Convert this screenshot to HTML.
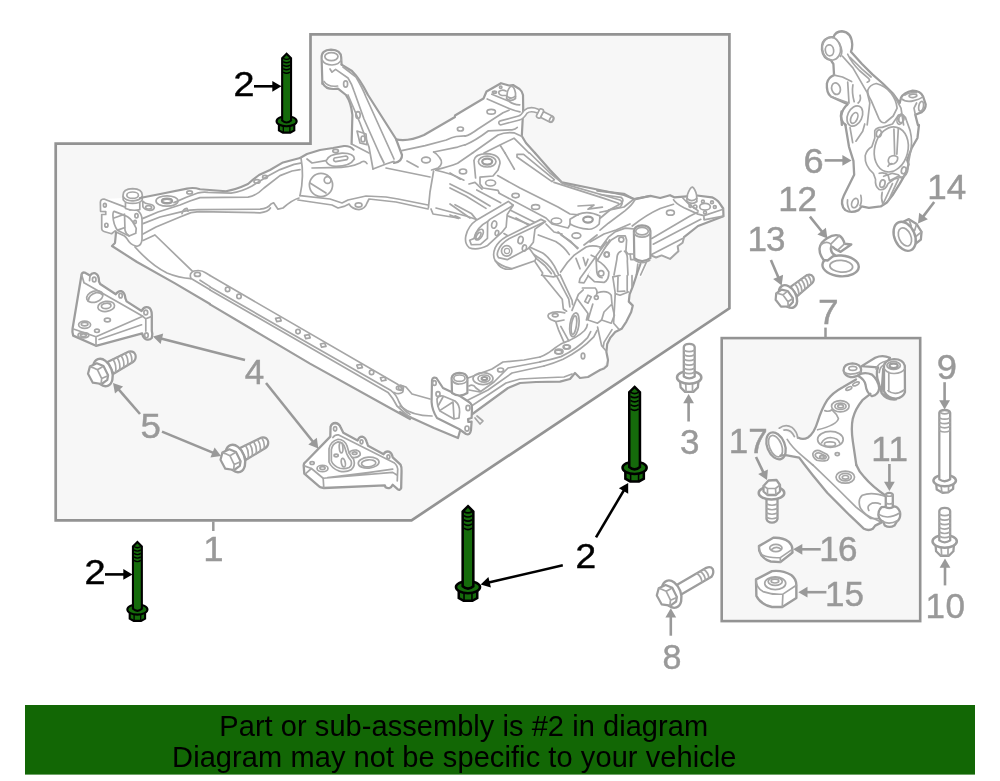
<!DOCTYPE html>
<html lang="en">
<head>
<meta charset="utf-8">
<title>Suspension mounting diagram</title>
<style>
html,body{margin:0;padding:0;background:#fff;}
body{width:1000px;height:781px;overflow:hidden;position:relative;font-family:"Liberation Sans",sans-serif;}
svg{position:absolute;left:0;top:0;display:block;will-change:transform;}
svg text{font-family:"Liberation Sans",sans-serif;}
.g{fill:none;stroke:#a6a6a6;stroke-width:1.7;stroke-linecap:round;stroke-linejoin:round;vector-effect:non-scaling-stroke;}
.g path,.g ellipse,.g circle,.g polygon,.g polyline,.g line,.g rect{vector-effect:non-scaling-stroke;}
.w{fill:#fff;}
.g [style*="stroke-width:2."]{stroke:#9d9d9d;}
</style>
</head>
<body>
<svg width="1000" height="781" viewBox="0 0 1000 781">
<!-- assembly box 1 -->
<polygon points="55.7,143.7 310.5,143.7 310.5,34.4 729.4,34.4 729.4,308.3 411.5,520.4 55.7,520.4" fill="#f7f7f7" stroke="#939393" stroke-width="2.7" stroke-linejoin="miter"/>
<!-- assembly box 7 -->
<rect x="721.7" y="338.1" width="198.5" height="283" fill="#f7f7f7" stroke="#939393" stroke-width="2.6"/>
<g fill="#fff" stroke="none">
<path transform="translate(300,35) scale(0.2)" d="M112 110 L125 80 L155 72 L190 80 L205 110 L210 150 L260 180 L300 225 L340 300 L480 520 L510 600 L505 640 L365 680 L258 560 L262 400 L255 340 L230 300 L190 268 L150 278 L115 245 Z"/>
<path transform="translate(465,75) scale(0.1)" d="M0 345 L185 235 L215 165 L360 82 L440 105 L480 100 L545 140 L578 185 L582 330 L568 610 L700 780 L0 780 Z"/>
<path transform="translate(600,170) scale(0.14)" d="M0 150 L170 170 L245 210 L360 185 L430 200 L500 180 L530 195 L620 185 L700 180 L800 195 L850 230 L880 275 L882 330 L700 400 L600 480 L590 520 L555 545 L560 580 L500 635 L440 610 L400 625 L365 610 L300 760 L0 760 Z"/>
<path transform="translate(540,240) scale(0.16)" d="M375 219 L610 200 L580 290 L560 340 L555 385 L580 410 L570 450 L540 510 L510 555 L470 575 L440 610 L420 650 L415 700 L425 750 L0 750 L0 0 L375 0 Z"/>
<path transform="translate(400,330) scale(0.2)" d="M0 250 L160 250 L300 200 L520 150 L830 55 L1000 0 L1000 200 L940 235 L900 240 L875 215 L850 245 L800 258 L600 265 L540 290 L360 420 L355 500 L335 525 L300 505 L290 540 L170 490 L0 410 Z"/>
<path transform="translate(210,270) scale(0.2)" d="M0 28 L1000 610 L1000 745 L0 172 Z"/>
<path transform="translate(95,215) scale(0.2)" d="M105 60 L300 100 L488 282 L555 290 L575 302 L575 445 L400 342 L210 235 L85 155 L100 140 Z"/>
<path transform="translate(810,110) scale(0.14723)" d="M200 0 L200 70 L265 250 L295 345 L300 440 L230 580 Q200 640 240 680 Q280 705 330 680 L350 655 L400 665 L480 655 L520 630 L560 580 L610 500 L650 430 L670 370 L660 340 L690 260 L730 190 L740 95 Z"/>
<path transform="translate(760,345) scale(0.16)" d="M600 215 L520 262 Q450 300 420 345 Q385 400 360 480 Q340 550 300 578 L235 580 L120 520 L50 600 L100 720 L200 690 L330 750 L602 750 L580 600 Q568 520 580 460 Q595 400 640 345 L690 305 L745 270 L700 185 Z"/>
<path transform="translate(760,440) scale(0.16)" d="M90 90 L160 95 L245 110 L275 150 L330 220 L420 330 L560 470 L650 555 Q680 570 705 555 L720 535 L760 515 L790 352 Q700 290 650 230 Q620 200 602 156 L590 0 L100 0 Z"/>
</g>
<!-- a00_fill.svg -->
<!-- white silhouette of the sub-frame (includes centre opening) -->
<polygon fill="#fff" stroke="none" points="100.6,211.4 100.4,202.4 104,199 123,198 123,192 132.6,188.6 142.3,193 140,198 164,193.2 187,188.6 200,189.2 226,191.2 248,184 253,179.6 259,175 270,170 283,162.4 300,158 307,154 320,150 333,148 344,146 351.6,144 352.4,115 346,95 338,88.6 322.6,83 321.6,58 331,49.6 341.2,57.4 341.6,64.6 352,71 368,95 396,139 408,140 424,135 460,114 486,95 489,91 501,83.2 509,85.5 513,85 519.5,89 523,95 523.2,108 521.8,136 526,143 535,153 550,170 562,182.4 590,188 624,195 634,199 650.4,195.9 660.2,198 670,195.2 674.2,197.3 686.8,196.3 696.9,195.5 712,197.3 719,202.5 723.2,208.5 723.5,216.2 698,226 684,237.2 682.6,242.8 677.7,246.3 678.4,251.2 670,258.9 661.6,255.4 656,257.5 651,255.4 642,264 637.6,272 632.8,286.4 629.6,294.4 628.8,301.6 632.8,305.6 631.2,312 626.4,321.6 621.6,328.8 615.2,332 610.4,337.6 607.2,344 606.4,352 608,360 600,370 588,377 580,378 575,373 570,379 560,381.6 536,382 520,383 508,388 472.4,414 471.6,421.6 471,430 466,434 459,429 458,438 434,428 412,418 400,412 390,408 310,363.6 210,304.4 175,283.4 137,262 112,246 115,243 116,232.6 111.6,233.7 104,231.5 101.7,228.8 101.7,214.5"/>

<!-- b01_plateL.svg -->
<g class="g" transform="translate(95,180) scale(0.08958)">
<!-- left front plate -->
<path class="w" d="M62 350 L60 250 Q62 212 100 212 L330 300 L390 335 Q440 318 480 345 Q522 378 525 440 L525 660 Q520 730 470 740 Q420 735 380 690 Q350 640 330 625 L235 580 L225 568 L185 600 L100 575 Q78 570 75 545 L75 385 L120 385 L120 352 Z"/>
<path d="M215 350 L330 395 Q400 420 440 500 L460 540 L455 595 L380 625 Q330 600 250 560 Q205 500 200 400 Q200 350 215 350 Z"/>
<path d="M330 395 L335 560 Q345 605 380 623 M212 425 L330 382 M252 560 L335 530"/>
<ellipse cx="110" cy="282" rx="16" ry="20"/><ellipse cx="127" cy="505" rx="18" ry="22"/>
<ellipse cx="463" cy="400" rx="18" ry="24"/><ellipse cx="447" cy="468" rx="14" ry="18"/>
<!-- bushing cylinder -->
<path class="w" d="M340 250 L340 318 Q420 350 500 330 L500 245 Z"/>
<path class="w" d="M313 170 Q313 98 420 96 Q527 98 528 170 L527 222 Q500 262 420 262 Q340 262 315 222 Z"/>
<path d="M315 185 Q345 235 420 232 Q495 235 527 185"/>
<ellipse cx="420" cy="170" rx="65" ry="36"/>
<!-- small tab right of cylinder -->
<path class="w" d="M532 235 Q560 265 600 268 Q655 275 662 305 Q660 335 610 340 Q555 335 535 300 Z"/>
<ellipse cx="598" cy="305" rx="34" ry="19"/>
</g>

<!-- b02_armL.svg -->
<g class="g" transform="translate(140,150) scale(0.2)">
<!-- left arm, top silhouette -->
<path style="stroke-width:2.1" d="M0 240 L120 216 L235 193 Q268 186 300 196 L430 206 Q480 198 540 170 L565 148 L595 125 L650 100 L715 62 L800 40"/>
<path d="M170 263 L232 236 L292 214 Q320 208 340 212 L455 216 Q510 208 560 180 L640 130 L700 98 L770 72 L803 66"/>
<path d="M15 342 L90 310 L200 275 L250 255 L300 238 L540 236 Q580 230 620 190 L700 128 L760 105 L800 98"/>
<path d="M15 368 L100 335 L210 308 Q250 298 290 298 L600 296 Q640 292 655 270 L668 264 L690 296 L715 290 Q760 250 795 240"/>
<path d="M15 420 L80 385 L200 335 L255 313 L295 308 L600 314 Q640 310 652 290"/>
<path d="M15 452 L72 426"/>
<path d="M210 318 Q215 295 235 292 L240 306"/>
<ellipse cx="135" cy="255" rx="55" ry="26"/><ellipse cx="135" cy="255" rx="25" ry="11" style="stroke-width:2.4"/>
<ellipse cx="248" cy="212" rx="14" ry="8"/><ellipse cx="585" cy="157" rx="15" ry="9"/><ellipse cx="625" cy="135" rx="12" ry="8"/>
</g>

<!-- b03_mid.svg -->
<g class="g" transform="translate(290,120) scale(0.2)">
<!-- grey gap between tower and rear member -->
<path style="stroke-width:2.1" d="M50 190 L85 170 L150 150 L215 140 L270 130 Q300 128 318 148"/>
<path d="M55 190 Q72 280 50 378"/>
<path d="M85 195 L110 215 L178 203"/>
<path d="M180 205 Q190 172 260 166 Q320 165 322 195 Q300 232 230 232 Q190 230 180 205 Z"/>
<path d="M222 190 L280 180 Q295 185 285 198 L228 208 Q212 203 222 190 Z"/>
<ellipse cx="228" cy="155" rx="14" ry="8"/>
<path d="M110 240 L200 238 Q300 240 350 215 Q372 198 385 218"/>
<circle cx="155" cy="325" r="58"/><path d="M100 315 L180 365"/><circle cx="188" cy="300" r="17"/>
<path d="M50 378 L200 395 L260 415 L290 400 L380 380 L480 385 L540 395 L690 425"/>
<path d="M40 400 L210 425 L240 440 L270 432 L295 420 Q310 445 345 448 Q375 445 385 415 L395 395 L530 410 L690 445"/>
<ellipse cx="343" cy="425" rx="17" ry="11"/>
<!-- tower base -->
<path d="M480 240 L700 285 M585 205 L640 235"/>
<path d="M718 255 L700 360 L692 440 M705 445 L715 470 L840 490"/>
<!-- rear member front edge -->
<ellipse cx="680" cy="200" rx="22" ry="14"/><ellipse cx="852" cy="45" rx="15" ry="10"/>
<path d="M800 320 L900 370 L1000 430 M730 440 L880 480 L940 500"/>
</g>

<!-- b04_tower.svg -->
<g class="g" transform="translate(300,35) scale(0.2)">
<!-- tower right edge (thick) -->
<path style="stroke-width:2.2" d="M208 148 L260 180 Q300 220 340 300 L480 520 L510 600 Q512 632 470 640"/>
<!-- top bushing -->
<path style="stroke-width:2.2" d="M112 245 L108 115 Q106 75 155 73 Q205 75 206 112 L208 148"/>
<ellipse cx="157" cy="108" rx="33" ry="20"/>
<path d="M110 125 Q125 150 160 150 Q195 148 206 125"/>
<path style="stroke-width:2.2" d="M113 240 Q130 278 190 268 L230 300 Q255 335 262 400 L258 545"/>
<path d="M120 232 Q140 262 188 255"/>
<path d="M150 170 L160 186 L178 172 L240 215 Q262 250 270 280 L320 420 L400 600 L420 640"/>
<path d="M215 160 L280 210 Q315 270 330 310 L470 620"/>
<path d="M240 300 L300 440 L345 560 L365 670"/>
<path d="M258 545 L345 590 M365 670 L430 645 L470 632"/>
<ellipse cx="228" cy="245" rx="10" ry="16"/><ellipse cx="290" cy="400" rx="11" ry="17"/>
<path d="M285 480 L300 540 L335 548 L330 495 Z"/><ellipse cx="315" cy="520" rx="10" ry="15"/>
<!-- rear member top silhouette -->
<path style="stroke-width:2.2" d="M480 522 Q540 535 620 500 L775 410"/>
</g>

<!-- b05_rearTopR.svg -->
<g class="g" transform="translate(465,75) scale(0.1)">
<path style="stroke-width:2.2" d="M-100 405 L0 345 L185 235 L215 165 L360 82 L440 105 L480 100 L545 140 Q575 165 580 200 L582 330 L575 480 L568 610 L610 680 L700 780"/>
<path class="w" d="M415 235 L425 165 Q445 110 470 112 Q495 125 505 180 L505 235 Q460 272 415 235 Z"/>
<path d="M418 212 Q460 250 505 212"/>
<circle cx="357" cy="122" r="12"/><ellipse cx="295" cy="172" rx="20" ry="10"/>
<path d="M410 160 Q370 140 340 165 Q330 195 370 205 L412 205"/>
<path d="M268 192 L440 262 Q490 300 548 298"/>
<path d="M222 240 L440 335 Q500 360 550 368"/>
<ellipse cx="262" cy="368" rx="42" ry="24"/>
<path d="M0 612 Q50 600 130 540 L380 378 L440 352"/>
<path d="M0 700 Q100 660 235 558 L470 548 Q505 545 522 525"/>
<path d="M75 780 L330 600 Q400 568 490 578 L565 612"/>
<path d="M190 780 L350 700 L490 632 L640 780 M350 700 L400 780"/>
<!-- pipe -->
<path d="M358 478 L540 430 Q575 420 605 368 Q650 330 725 360" style="stroke-width:5.6"/>
<path d="M358 478 L540 430 Q575 420 605 368 Q650 330 725 360" style="stroke:#fff;stroke-width:2.4"/>
<g transform="translate(750,385) rotate(27)">
<path class="w" d="M20 -32 L125 -32 Q150 -30 150 0 Q150 30 125 32 L20 32 Z"/>
<ellipse cx="128" cy="0" rx="16" ry="30"/>
<rect class="w" x="-22" y="-48" width="44" height="96" rx="16"/>
</g>
</g>

<!-- b06_rearMid.svg -->
<g class="g" transform="translate(450,130) scale(0.2)">
<!-- silhouette right edge -->
<path style="stroke-width:2.2" d="M425 115 L500 200 L560 262 L700 290 L870 325 L920 345 L1000 330"/>
<!-- raised panel -->
<path d="M398 115 L500 215 L565 268 L850 350 Q872 362 850 386 L792 400"/>
<path d="M335 122 L368 122 L522 248 L510 258 L335 135 Z"/>
<path d="M275 115 L322 196 M520 262 L770 342 L842 366"/>
<path d="M640 380 L720 375 L690 396 L762 386"/>
<path d="M238 228 L350 290 L540 385 L600 420 L642 424"/>
<!-- left bushing bracket -->
<path d="M120 152 Q125 120 182 118 Q250 122 250 166 L240 200 L215 230 L150 236 L150 270 L165 290 L240 302 L246 316"/>
<ellipse cx="186" cy="158" rx="25" ry="15" style="stroke-width:2.2"/>
<ellipse cx="186" cy="158" rx="44" ry="27"/>
<path d="M120 155 L128 240"/>
<ellipse cx="203" cy="265" rx="25" ry="15"/><ellipse cx="328" cy="328" rx="18" ry="11"/><ellipse cx="428" cy="385" rx="20" ry="12"/><ellipse cx="532" cy="455" rx="26" ry="15"/>
<path d="M246 316 L480 440 L510 470 L590 490 L602 470"/>
<!-- right bushing -->
<path d="M600 446 L640 422 Q690 400 750 430 L746 470 Q720 498 690 496 Q640 492 600 470 Z"/>
<ellipse cx="690" cy="448" rx="24" ry="15" style="stroke-width:2.2"/>
<ellipse cx="632" cy="528" rx="22" ry="14"/>
<!-- left-side lines -->
<ellipse cx="65" cy="207" rx="18" ry="12"/>
<path d="M0 215 L52 246 M95 270 L125 262 L160 296"/>
<path d="M0 290 L80 330 L180 392 M0 370 L100 440 M0 425 L42 442"/>
<path d="M300 400 L440 470 M330 440 L420 490 M540 510 L640 590 M480 470 L520 510 L560 520"/>
<path d="M752 440 L800 400 L870 385 L920 345 M700 560 L770 520 L830 500 L900 470"/>
</g>

<!-- b07_rearRight.svg -->
<g class="g" transform="translate(600,170) scale(0.14)">
<path style="stroke-width:2.2" d="M-20 148 L170 170 L245 210 L360 185 L430 200 L500 180 L530 195 L620 188 M692 182 L800 195 Q840 215 850 232 L880 275 L882 330 L700 400 L600 480"/>
<path d="M600 480 L590 520 L555 545 L560 580 L500 635 L440 610 L400 625 L365 610" style="stroke-width:2"/>
<path class="w" d="M620 225 L625 175 Q645 120 660 122 Q680 135 690 180 L692 225 Q660 252 620 225 Z"/>
<path d="M621 203 Q655 235 692 203"/>
<path d="M525 212 Q540 240 600 270 L700 315 L742 326 L880 280 M742 326 L743 356 L880 330 M590 198 L640 250 L700 290"/>
<ellipse cx="750" cy="262" rx="38" ry="24"/><circle cx="680" cy="262" r="12"/><circle cx="735" cy="225" r="10"/><circle cx="800" cy="230" r="10"/><circle cx="820" cy="265" r="10"/><circle cx="750" cy="303" r="10"/><circle cx="645" cy="258" r="9"/>
<path d="M250 212 Q230 250 180 290 L60 380 L0 430"/>
<path d="M0 175 L150 195 Q178 215 150 240 L60 290 L0 302"/>
<path d="M230 400 Q330 320 430 275 L525 245 M370 490 L640 330 L700 300 M380 530 L720 352 M365 605 L590 490"/>
<ellipse cx="503" cy="305" rx="28" ry="18"/>
<!-- bushing cylinder -->
<path class="w" style="stroke-width:2.2" d="M242 435 L245 630 Q300 672 360 630 L360 435 Q355 395 300 395 Q245 398 242 435 Z"/>
<ellipse cx="300" cy="437" rx="45" ry="27"/>
<path d="M243 450 Q260 480 300 480 Q345 478 360 450"/>
<path d="M250 645 Q300 680 355 645"/>
<!-- left bracket -->
<path d="M0 560 L60 480 L110 440 L180 415 L240 420"/>
<path d="M0 600 L80 500 L130 470 L180 470 L190 500 L185 580 L200 600 L245 600"/>
<circle cx="152" cy="497" r="18"/><circle cx="47" cy="603" r="17"/>
<path d="M150 580 Q120 590 120 640 L100 750 M175 580 Q200 600 195 650 L200 750 M215 600 L220 640 L245 640 M270 672 L260 750 M330 662 L290 750"/>
</g>

<!-- b08_rightFront.svg -->
<g class="g" transform="translate(540,240) scale(0.16)">
<path style="stroke-width:2.2" d="M628 150 L610 200 L580 290 L560 340 L555 385 L580 410 L570 450 L540 510 L510 555 L470 575 L440 610 L420 650 L415 700 L425 750 L420 785 L400 803 L375 812"/>
<!-- upper-left hoses/lines -->
<path d="M225 115 L250 180 M270 110 L285 160 L300 120 M320 95 L340 105"/>
<!-- diagonal bracket -->
<path class="w" d="M435 0 L275 268 L245 265 L250 240 L415 12"/>
<path class="w" d="M300 222 L340 260 L400 265 Q432 250 430 200 Q400 150 360 130 L350 108"/>
<path d="M350 110 L355 200 Q360 232 388 236"/>
<circle cx="382" cy="208" r="17"/><circle cx="418" cy="90" r="15"/>
<!-- channel -->
<path d="M500 222 L455 230 L470 330 M545 222 L545 320 M488 222 L485 322 L530 320 M575 222 L575 290"/>
<path d="M470 335 L500 345 L552 325"/>
<path d="M360 330 Q420 310 445 345 L450 400 L400 450 L385 500 L445 520 L465 470 L450 405"/>
<path d="M265 300 L345 300 Q365 320 350 350 M300 345 L320 355 L300 395 L280 385 Z"/>
<circle cx="352" cy="360" r="12"/>
<path d="M200 440 L240 340 L270 312 M235 370 L300 460 L290 500 M330 400 L300 500 L360 520 L385 500 M470 338 L460 520 L492 556"/>
<ellipse cx="215" cy="530" rx="28" ry="75" transform="rotate(8 215 530)"/><ellipse cx="212" cy="532" rx="16" ry="58" transform="rotate(8 212 532)"/>
<path d="M155 455 Q90 440 55 462 Q40 480 70 498 L100 510 L150 500"/><ellipse cx="95" cy="470" rx="18" ry="10"/>
<path d="M100 515 L115 560 L150 640 M130 540 L180 630"/>
<ellipse cx="165" cy="668" rx="20" ry="12"/><ellipse cx="115" cy="700" rx="22" ry="12"/>
<path d="M360 545 L385 660 L412 692 M450 560 L400 640 L395 672"/>
</g>

<!-- b09_frontRight.svg -->
<g class="g" transform="translate(400,330) scale(0.2)">
<!-- bottom silhouette of arm -->
<path style="stroke-width:2.2" d="M362 420 L540 290 L600 265 L680 260 L800 258 L850 245 L875 215 L900 240 L940 235 L1000 200"/>
<path d="M350 385 L530 265 L600 245 L700 240 L820 235 L860 220"/>
<path d="M340 240 L380 225 L460 195 L515 160 L620 150 L700 135"/>
<path d="M345 300 L400 310 L470 260 L540 190 L700 160"/>
<path d="M340 350 L440 300 L560 215 L720 180"/>
<path d="M345 280 Q365 268 380 290 L402 306"/>
<ellipse cx="415" cy="243" rx="50" ry="30"/><ellipse cx="420" cy="243" rx="30" ry="18"/><ellipse cx="422" cy="243" rx="14" ry="8" style="stroke-width:2.2"/>
<ellipse cx="503" cy="200" rx="15" ry="10"/><ellipse cx="795" cy="108" rx="20" ry="12"/><ellipse cx="835" cy="85" rx="17" ry="10"/><ellipse cx="915" cy="130" rx="9" ry="14"/>
<!-- crossbar end -->
<path style="stroke-width:2.2" d="M0 410 L60 440 L170 490 L290 540 L300 505"/>
<path d="M0 275 L30 285 L60 320 L150 345 M0 380 Q60 430 160 430"/>
<circle cx="5" cy="290" r="12"/>
<!-- plate -->
<path class="w" style="stroke-width:2.2" d="M160 250 Q165 233 182 240 L215 290 L300 330 L345 360 Q362 370 360 395 L358 440 L340 445 L342 460 L358 458 L355 500 Q350 528 330 520 L295 495 L185 440 Q160 400 158 360 Z"/>
<path d="M185 345 Q190 325 215 330 L275 355 Q300 375 298 410 L295 440 L270 445 L200 405 Q185 380 185 345 Z"/>
<path d="M215 335 L190 380 M200 402 L265 360 L270 442"/>
<ellipse cx="172" cy="265" rx="9" ry="12"/><ellipse cx="190" cy="320" rx="10" ry="12"/><ellipse cx="340" cy="390" rx="10" ry="13"/><ellipse cx="335" cy="493" rx="10" ry="13"/>
<path d="M375 440 L400 470 L415 455 L385 430"/>
<!-- cylinder -->
<path class="w" style="stroke-width:2.2" d="M258 240 L260 315 Q297 340 337 315 L337 240 Q332 214 297 214 Q262 216 258 240 Z"/>
<ellipse cx="297" cy="241" rx="28" ry="16"/>
<path d="M259 252 Q275 272 297 270 Q325 270 337 252"/>
</g>

<!-- b10_crossbar.svg -->
<g class="g" transform="translate(210,270) scale(0.2)">
<path d="M0 28 L940 573 Q975 595 962 612 Q945 625 920 612"/>
<path d="M0 85 L905 603 Q930 620 945 660 Q965 700 1000 722"/>
<path d="M0 100 L890 612 Q915 640 935 680 L1000 738"/>
<path style="stroke-width:2.2" d="M0 172 L500 468 L900 690 L1000 745"/>
<circle cx="88" cy="97" r="11"/><circle cx="145" cy="132" r="11"/><circle cx="440" cy="308" r="11"/><circle cx="808" cy="512" r="11"/><ellipse cx="945" cy="590" rx="13" ry="9"/>
<g id="sq"><path d="M-14 -6 L8 -10 L14 6 L-8 10 Z" transform="translate(342,248)"/></g>
<path d="M-14 -6 L8 -10 L14 6 L-8 10 Z" transform="translate(487,333)"/>
<path d="M-14 -6 L8 -10 L14 6 L-8 10 Z" transform="translate(566,376)"/>
<path d="M-14 -6 L8 -10 L14 6 L-8 10 Z" transform="translate(748,482)"/>
<path d="M-14 -6 L8 -10 L14 6 L-8 10 Z" transform="translate(866,545)"/>
</g>

<!-- b11_crossbarL.svg -->
<g class="g" transform="translate(95,215) scale(0.2)">
<path style="stroke-width:2.2" d="M105 88 L100 140 L85 155 L210 235 L400 342 L575 445"/>
<path d="M300 100 L488 282"/>
<path d="M200 160 Q280 250 360 290 Q420 315 480 318"/>
<path d="M480 318 Q468 290 495 280 Q530 272 555 290 L575 302 M525 326 L575 358 M485 320 L575 374"/>
<ellipse cx="512" cy="297" rx="15" ry="10"/>
</g>

<!-- b13_hose.svg -->
<g class="g" transform="translate(510,235) scale(0.10883)">
<path d="M170 105 L300 165 Q380 220 430 330 L450 370 M165 140 L250 200 Q340 250 400 340 L420 380"/>
<path d="M230 245 L300 350 L290 370 L400 385 L432 375 M240 215 L320 280 L380 355"/>
<path d="M300 370 L480 590 L490 680 L520 700 M430 380 L540 590 L550 660 M460 365 L570 600 L575 640"/>
<path d="M260 0 L420 60 Q500 110 545 180 M470 0 L560 60 L620 125"/>
<path d="M465 340 Q520 250 590 185 Q640 150 700 110 Q760 90 827 110 M680 92 L800 0"/>
</g>

<!-- b14_ears.svg -->
<g class="g" transform="translate(455,190) scale(0.10881)">
<path d="M0 135 L150 215 L196 272 M200 0 L420 118 M0 238 L45 258"/>
<!-- ear bracket 1 -->
<path class="w" d="M490 105 L535 140 L480 225 L470 340 L430 390 L300 510 Q200 560 130 530 Q85 490 100 420 Q120 330 200 275 Z"/>
<path d="M535 140 L320 270 L300 290 L298 445 L235 500 L150 503 L135 462 L175 445"/>
<path d="M300 290 Q200 340 175 445"/>
<ellipse cx="222" cy="410" rx="30" ry="55" transform="rotate(32 222 410)"/><ellipse cx="216" cy="420" rx="16" ry="36" transform="rotate(32 216 420)"/>
<ellipse cx="360" cy="318" rx="23" ry="34" transform="rotate(15 360 318)"/><ellipse cx="385" cy="395" rx="16" ry="24" transform="rotate(15 385 395)"/>
<path d="M490 240 L740 340 M450 400 L500 430"/>
<!-- ear bracket 2 -->
<path class="w" d="M790 270 L830 290 L735 360 L720 480 L680 530 L745 625 L735 650 L520 725 Q450 740 400 690 L370 650 Q340 600 370 530 Q400 470 470 430 Z"/>
<path d="M830 290 L500 445 Q420 490 395 560 Q380 600 400 622 L480 640 L680 535"/>
<circle cx="475" cy="560" r="48"/><circle cx="478" cy="560" r="24" style="stroke-width:1.2"/>
<ellipse cx="603" cy="460" rx="23" ry="34" transform="rotate(15 603 460)"/><ellipse cx="638" cy="533" rx="19" ry="28" transform="rotate(15 638 533)"/>
<path d="M372 652 Q420 700 520 722"/>
</g>

<!-- b15_rearLeft.svg -->
<g class="g" transform="translate(390,90) scale(0.14085)">
<path d="M75 432 L250 395 L400 355 Q440 335 470 330 L532 326"/>
<path d="M310 440 L480 405 L532 389"/>
<path d="M330 565 Q420 545 480 520 L586 447"/>
<path d="M310 440 Q332 450 352 480 Q385 520 340 555 L295 568"/>
<path d="M325 570 Q430 590 525 640"/>
</g>

<!-- b16_cornerFR.svg -->
<g class="g" transform="translate(520,310) scale(0.10246)">
<path d="M195 459 Q270 430 310 395 Q380 340 430 318 Q560 270 630 200 Q655 170 658 140"/>
<path d="M195 507 Q300 485 400 455 Q560 380 660 270 L690 210"/>
<path d="M234 547 Q340 515 420 480 Q600 390 720 262 L752 200"/>
</g>

<!-- c01_bracket4L.svg -->
<g class="g" transform="translate(60,260) scale(0.12)">
<path class="w" style="stroke-width:2.3" d="M180 120 Q185 100 205 105 L250 130 Q265 105 290 110 Q325 120 325 180 L335 200 L465 285 Q485 255 510 260 Q540 270 545 320 L555 345 L680 425 Q700 385 735 395 Q765 405 765 460 L765 590 Q775 620 765 650 Q745 672 715 660 Q690 645 685 612 L300 715 L110 630 Q100 600 105 570 Z"/>
<path d="M200 190 L690 468 L300 640 L300 715 M300 640 L112 575 M180 120 L200 190 M250 130 L246 172"/>
<path d="M325 662 L680 540 M690 470 L715 490 L715 592 M715 490 L760 472"/>
<ellipse cx="285" cy="162" rx="15" ry="20"/><ellipse cx="505" cy="297" rx="14" ry="19"/><ellipse cx="715" cy="437" rx="16" ry="20"/><ellipse cx="720" cy="628" rx="15" ry="20"/>
<ellipse cx="290" cy="305" rx="70" ry="46" transform="rotate(-18 290 305)"/><path d="M235 340 Q240 290 300 272 Q340 268 352 290"/>
<ellipse cx="385" cy="387" rx="70" ry="42" transform="rotate(-8 385 387)"/><ellipse cx="385" cy="383" rx="40" ry="22" transform="rotate(-8 385 383)"/>
<ellipse cx="395" cy="500" rx="25" ry="15"/><ellipse cx="308" cy="590" rx="20" ry="14"/>
<ellipse cx="205" cy="540" rx="50" ry="30"/><ellipse cx="205" cy="534" rx="28" ry="15"/>
<ellipse cx="195" cy="627" rx="45" ry="22"/><ellipse cx="195" cy="627" rx="25" ry="11"/>
</g>

<!-- c02_bolt5a.svg -->
<g id="bolt5" class="g" transform="translate(70,335) scale(0.1)">
<path class="w" style="stroke-width:2.2" d="M375 270 L590 165 Q640 158 655 200 Q665 245 630 270 L435 388 Z"/>
<path d="M430 243 Q470 305 455 376 M470 224 Q510 283 495 352 M510 204 Q550 262 535 328 M550 185 Q590 240 575 303 M592 168 Q628 220 615 279"/>
<ellipse class="w" style="stroke-width:2.4" cx="328" cy="375" rx="92" ry="142" transform="rotate(-20 328 375)"/>
<path class="w" style="stroke-width:2.2" d="M180 388 L199 316 L268 283 L335 311 L381 403 L373 449 L317 490 L228 477 Z"/>
<path d="M199 318 L228 326 L274 347 L325 318 M274 347 L317 436 L379 408 M317 436 L311 488"/>
</g>
<use href="#bolt5" x="132.5" y="86"/>

<!-- c03_bracket4R.svg -->
<g class="g" transform="translate(290,410) scale(0.13)">
<path class="w" style="stroke-width:2.3" d="M105 425 Q105 410 120 400 L310 205 L312 130 Q320 100 350 100 Q380 105 390 135 L410 175 L520 235 Q530 205 555 205 Q580 210 590 245 L600 275 L720 340 Q735 315 760 320 Q785 330 790 365 L850 420 Q860 440 858 470 L855 600 Q845 622 830 610 L790 575 Q770 615 735 595 L730 580 L260 600 Q230 600 215 580 L110 490 Z"/>
<path d="M330 212 Q345 188 375 192 L800 405 Q832 430 828 470 L825 545 M255 525 L790 480 L822 500 M290 520 L600 482 L790 455"/>
<path d="M110 430 L165 450 L255 525 L260 598 M165 450 L120 490"/>
<path d="M300 300 Q310 240 370 225 Q420 225 440 280 L455 330 Q470 360 490 380 Q505 430 470 460 Q430 482 380 470 Q320 450 300 400 Z"/>
<path d="M318 305 Q325 258 370 245 Q408 245 422 290 L436 335 Q450 368 470 390 Q480 425 455 442 Q425 455 385 448 Q335 432 318 392 Z"/>
<ellipse cx="393" cy="290" rx="14" ry="40" transform="rotate(-5 393 290)"/><ellipse cx="410" cy="405" rx="15" ry="34" transform="rotate(-12 410 405)"/><ellipse cx="355" cy="350" rx="16" ry="10"/>
<path d="M455 330 Q470 305 510 308 Q545 320 540 345 Q520 370 480 365"/><ellipse cx="497" cy="332" rx="18" ry="10"/>
<ellipse cx="605" cy="405" rx="80" ry="42" transform="rotate(-5 605 405)"/><ellipse cx="605" cy="410" rx="55" ry="27" transform="rotate(-5 605 410)"/>
<ellipse cx="170" cy="408" rx="16" ry="11"/><ellipse cx="250" cy="450" rx="42" ry="25"/><ellipse cx="250" cy="447" rx="20" ry="11"/>
<ellipse cx="347" cy="145" rx="12" ry="17"/><ellipse cx="550" cy="245" rx="11" ry="15"/><ellipse cx="757" cy="360" rx="11" ry="15"/>
</g>

<!-- d01_knuckleTop.svg -->
<g class="g" transform="translate(810,25) scale(0.13)">
<path class="w" style="stroke-width:2.3" d="M245 769 L240 700 Q250 640 290 610 L160 550 Q125 520 130 450 Q140 400 185 385 L180 300 L160 270 Q100 260 92 190 Q85 120 140 98 Q165 90 180 95 Q195 50 245 48 Q320 55 325 150 Q325 185 315 205 L400 300 L480 380 L560 450 L640 530 L690 600 L700 560 Q720 520 790 505 Q850 505 870 550 L890 610 Q890 650 860 670 L810 690 L830 769"/>
<ellipse cx="165" cy="182" rx="70" ry="88" transform="rotate(-8 165 182)"/><ellipse cx="150" cy="195" rx="32" ry="42" transform="rotate(-8 150 195)"/>
<path d="M185 95 Q235 130 245 200 Q245 225 235 242"/>
<path d="M250 240 L330 330 L440 520 L460 600 L440 769 M290 225 Q320 290 380 350 L450 410 Q470 430 440 440 M310 250 L400 340 L470 400"/>
<path d="M445 500 Q460 460 510 450 Q580 470 620 520 Q665 580 670 640 L640 700 L580 750 Q550 760 530 720 L470 580 Q440 530 445 500 Z"/>
<ellipse cx="200" cy="490" rx="33" ry="45" transform="rotate(-15 200 490)"/>
<path d="M185 385 L250 400 L320 435 M160 550 L300 600 M290 440 L300 600 M330 460 Q320 520 340 590 M385 540 Q395 580 370 600"/>
<ellipse class="w" cx="345" cy="700" rx="55" ry="82" transform="rotate(25 345 700)"/><ellipse cx="340" cy="715" rx="24" ry="44" transform="rotate(25 340 715)"/>
<ellipse cx="792" cy="545" rx="30" ry="13" transform="rotate(-5 792 545)"/>
<path d="M700 565 Q740 600 800 582 Q840 572 866 555 M730 540 Q760 515 820 520"/>
<ellipse cx="855" cy="625" rx="18" ry="38" transform="rotate(10 855 625)"/>
<ellipse cx="695" cy="725" rx="24" ry="40" transform="rotate(18 695 725)"/>
<path d="M640 530 L700 640 L720 769 M810 690 L800 640 L820 600"/>
</g>

<!-- d02_knuckleLow.svg -->
<g class="g" transform="translate(810,110) scale(0.14723)">
<path style="stroke-width:2.3" d="M240 100 L265 250 L295 345 L300 440 L230 580 Q200 640 240 680 Q280 705 330 680 L350 655 L400 665 L480 655 L520 630 L560 580 L610 500 L650 430 L670 370 L660 340 L690 260 L730 190 L740 102"/>
<ellipse cx="552" cy="268" rx="113" ry="155" transform="rotate(14 552 268)"/>
<path d="M440 140 Q455 115 490 118 L560 95 L600 35 Q640 20 655 70 L680 140 Q700 220 680 300 L665 380 Q670 430 640 450 L570 470 L530 500 Q510 550 470 540 Q440 520 445 470 L430 430 Q370 380 375 310 Q385 270 420 250 L440 190 Z"/>
<ellipse cx="468" cy="160" rx="17" ry="25" transform="rotate(10 468 160)"/><ellipse cx="620" cy="62" rx="17" ry="25" transform="rotate(10 620 62)"/><ellipse cx="637" cy="410" rx="16" ry="24" transform="rotate(15 637 410)"/><ellipse cx="492" cy="500" rx="17" ry="26" transform="rotate(15 492 500)"/>
<path d="M570 130 L575 300 M600 125 L590 300"/>
<path d="M545 370 Q520 350 540 320 Q570 300 595 320 Q600 350 570 365 Z M530 382 Q540 360 560 366"/>
<path d="M470 430 Q500 420 530 440 L540 480 M500 450 L560 430 L600 440 L620 462 M540 480 L600 450"/>
<path d="M490 560 Q480 600 495 640 M560 500 L500 630 M600 470 L530 620"/>
<path d="M272 120 L290 222 M312 212 L358 145 L372 95"/>
<path style="stroke-width:2.3" d="M214 10 Q198 70 242 102"/>
<ellipse cx="305" cy="632" rx="21" ry="33" transform="rotate(20 305 632)"/>
<path d="M255 610 Q250 650 270 682 M345 580 Q355 620 340 650"/>
</g>

<!-- d03_small.svg -->
<!-- clip 12 -->
<g class="g" transform="translate(760,210) scale(0.13)">
<ellipse class="w" style="stroke-width:2.4" cx="620" cy="430" rx="140" ry="80" transform="rotate(4 620 430)"/>
<ellipse cx="625" cy="433" rx="88" ry="45" transform="rotate(4 625 433)"/>
<path class="w" style="stroke-width:2.4" d="M490 385 Q455 340 458 295 Q465 245 520 215 Q565 185 610 197 Q640 215 650 260 L702 265 L620 322 L578 300 Q545 265 545 300 Q550 335 575 345 L520 388 Z"/>
<path d="M470 265 Q510 235 545 262 L550 300 M610 197 L548 258 M650 260 L598 308"/>
</g>
<!-- bolt 13 -->
<use href="#bolt5" transform="translate(788,296.5) rotate(-9.6) scale(0.86) translate(-102.8,-372.5)"/>
<!-- nut 14 -->
<g class="g" transform="translate(880,160) scale(0.14085)">
<path class="w" style="stroke-width:2.3" d="M150 445 L205 420 L260 455 L295 510 L290 565 L245 600 Z"/>
<path d="M205 420 L222 468 M260 455 L246 500 M295 510 L252 545"/>
<ellipse class="w" style="stroke-width:2.4" cx="175" cy="542" rx="72" ry="108" transform="rotate(-24 175 542)"/>
<ellipse cx="177" cy="546" rx="42" ry="68" transform="rotate(-24 177 546)"/>
</g>

<!-- e01_armTop.svg -->
<g class="g" transform="translate(760,345) scale(0.16)">
<!-- arm body fill -->
<!-- yoke + rear bushing -->
<path class="w" style="stroke-width:2.3" d="M635 132 L720 80 Q765 60 812 80 L770 150 L760 300 Q790 345 850 340 Q800 335 760 300 L740 230 Q722 180 738 140 Z"/>
<path class="w" style="stroke-width:2.3" d="M775 130 L775 290 Q800 335 850 335 Q895 330 906 295 L905 130 Q895 88 838 88 Q780 92 775 130 Z"/>
<ellipse cx="835" cy="128" rx="42" ry="24"/><ellipse cx="835" cy="130" rx="26" ry="14" style="stroke-width:2.2"/>
<path d="M777 150 Q800 180 840 178 Q885 176 905 150 M800 285 Q845 322 903 280 M805 170 L805 290"/>
<path d="M725 150 Q740 110 790 100 M745 172 Q750 132 780 122"/>
<!-- neck -->
<path class="w" style="stroke-width:2.3" d="M610 190 Q650 165 700 185 Q740 220 745 270 Q740 312 700 320 Q665 300 660 250 Q655 215 610 190Z"/>
<!-- small top boss -->
<path class="w" style="stroke-width:2.3" d="M522 160 Q522 118 578 115 Q630 118 632 155 L628 178 Q600 205 565 200 Q530 195 522 160 Z"/>
<ellipse cx="580" cy="146" rx="25" ry="13"/>
<path d="M525 170 Q560 195 630 168"/>
<!-- arm edges -->
<path style="stroke-width:2.3" d="M600 215 L520 262 Q450 300 420 345 Q385 400 360 480 Q340 550 300 578 Q270 595 240 580"/>
<path style="stroke-width:2.3" d="M690 305 L640 345 Q595 400 580 460 Q568 520 580 600 L602 750"/>
<ellipse cx="600" cy="243" rx="22" ry="9" transform="rotate(-25 600 243)"/><ellipse cx="555" cy="272" rx="20" ry="9" transform="rotate(-25 555 272)"/>
<ellipse cx="502" cy="383" rx="55" ry="35"/><ellipse cx="503" cy="383" rx="35" ry="20"/><ellipse cx="504" cy="383" rx="18" ry="10"/>
<path d="M405 410 Q430 420 450 405 Q480 430 490 460 Q480 500 360 530"/>
<ellipse cx="440" cy="590" rx="80" ry="50"/><path d="M385 612 Q400 580 440 578 Q490 582 498 612"/><ellipse cx="437" cy="620" rx="35" ry="14"/>
<ellipse cx="483" cy="682" rx="13" ry="9"/>
<path d="M330 680 Q340 655 370 660 L420 685 Q440 705 420 720 Q390 730 355 720 Q330 705 330 680Z"/>
<path d="M345 685 Q352 670 372 675 L408 692 Q420 703 408 710 Q388 716 362 708 Q345 700 345 685Z"/><ellipse cx="387" cy="700" rx="14" ry="8"/>
<!-- front bushing -->
<path d="M120 520 Q160 490 200 515 Q235 545 235 582 M150 532 Q190 522 215 572"/>
<ellipse class="w" style="stroke-width:2.3" cx="100" cy="630" rx="55" ry="88" transform="rotate(-22 100 630)"/>
<ellipse cx="97" cy="632" rx="38" ry="70" transform="rotate(-22 97 632)"/>
<path d="M170 590 Q200 640 260 690 L330 750"/>
</g>

<!-- e02_armLow.svg -->
<g class="g" transform="translate(760,440) scale(0.16)">
<path style="stroke-width:2.3" d="M128 98 L160 95 L245 110 L275 150 L330 220 L420 330 L560 470 L650 555 Q680 570 705 555 L720 535 L760 515"/>
<path d="M330 156 L480 300 L600 420 L690 490 L740 492"/>
<path style="stroke-width:2.3" d="M602 156 Q620 200 650 230 Q700 290 790 352"/>
<ellipse cx="533" cy="232" rx="58" ry="38"/><ellipse cx="533" cy="232" rx="38" ry="24"/><ellipse cx="534" cy="233" rx="20" ry="11"/>
<path d="M790 355 Q700 320 640 345 Q610 370 625 420 Q650 470 720 495 L750 510 M680 440 Q665 410 700 395 Q730 388 752 400"/>
<!-- ball joint 11 -->
<path class="w" style="stroke-width:2.3" d="M760 420 Q738 440 740 470 Q745 500 770 510 L780 535 Q810 552 840 535 L855 510 Q882 490 875 450 Q865 420 840 415 Z"/>
<path d="M742 465 Q800 502 875 455 M766 510 Q810 532 858 505"/>
<path class="w" style="stroke-width:2.3" d="M786 342 L786 420 Q808 432 830 420 L830 342 Q826 330 808 330 Q790 330 786 342 Z"/>
<path d="M786 345 Q808 358 830 345 M790 395 Q808 405 828 395"/>
</g>

<!-- e03_bolt17.svg -->
<g class="g" transform="translate(730,470) scale(0.1)">
<path class="w" style="stroke-width:2.3" d="M365 285 L365 490 Q375 526 420 526 Q465 526 475 490 L475 285 Z"/>
<path d="M367 340 Q420 365 473 340 M367 385 Q420 410 473 385 M367 430 Q420 455 473 430 M367 475 Q420 500 473 475"/>
<ellipse class="w" style="stroke-width:2.5" cx="415" cy="230" rx="128" ry="66"/>
<path class="w" style="stroke-width:2.3" d="M335 160 L385 105 L465 100 L500 150 L500 215 L460 250 L375 250 L335 215 Z"/>
<path d="M335 160 L375 185 L455 185 L500 150 M375 185 L375 250 M455 185 L460 250"/>
</g>

<!-- e04_w16_b15.svg -->
<g class="g" transform="translate(740,525) scale(0.12807)">
<!-- washer 16 -->
<path class="w" style="stroke-width:2.4" d="M148 165 L260 100 Q330 95 380 130 Q410 160 408 190 L410 215 L315 290 L240 285 Q170 265 150 200 Z"/>
<path d="M148 168 Q150 210 175 235 Q230 260 315 255 L408 190 M315 255 L315 290"/>
<ellipse cx="280" cy="180" rx="48" ry="28"/><path d="M245 192 Q285 160 322 190"/>
<!-- bushing 15 -->
<path class="w" style="stroke-width:2.4" d="M125 425 L250 360 Q330 350 400 390 Q440 420 440 470 L440 570 L330 640 L250 640 Q160 620 128 555 Z"/>
<path d="M125 428 Q125 490 180 520 Q250 545 335 540 L440 470 M335 540 L330 640"/>
<ellipse cx="275" cy="455" rx="82" ry="50"/><ellipse cx="275" cy="441" rx="55" ry="30"/><ellipse cx="273" cy="438" rx="30" ry="15"/>
</g>

<!-- f01_bolts.svg -->
<!-- bolt 9 -->
<g id="bolt9" class="g" transform="translate(915,400) scale(0.12793)">
<path class="w" style="stroke-width:2.3" d="M165 650 L170 700 L215 725 L260 722 L298 695 L300 650 Z"/>
<path d="M205 680 L210 722 M262 680 L262 720"/>
<ellipse class="w" style="stroke-width:2.5" cx="232" cy="630" rx="88" ry="45"/>
<path class="w" style="stroke-width:2.3" d="M190 100 Q195 78 232 78 Q270 78 275 100 L275 620 Q232 650 190 620 Z"/>
<path d="M200 100 Q232 118 265 100 M192 140 Q232 160 273 140 M192 175 Q232 195 273 175 M192 208 Q232 228 273 208 M192 240 Q232 260 273 240"/>
</g>
<!-- bolt 10 -->
<g id="bolt10" class="g" transform="translate(915,495) scale(0.12793)">
<path class="w" style="stroke-width:2.3" d="M160 385 L165 440 L200 475 L265 475 L300 440 L305 385 Z"/>
<path d="M205 415 L208 472 M258 415 L258 472"/>
<ellipse class="w" style="stroke-width:2.5" cx="232" cy="362" rx="95" ry="50"/>
<path class="w" style="stroke-width:2.3" d="M190 125 Q195 100 232 100 Q270 100 275 125 L275 355 Q232 385 190 355 Z"/>
<path d="M192 150 Q232 172 273 150 M192 185 Q232 207 273 185 M192 220 Q232 242 273 220 M192 255 Q232 277 273 255 M192 290 Q232 312 273 290 M192 322 Q232 344 273 322"/>
</g>
<!-- bolt 3 -->
<use href="#bolt10" x="-255.5" y="-163.9"/>
<!-- bolt 8 -->
<g class="g" transform="translate(638.8,556.6) scale(0.1)">
<path class="w" style="stroke-width:2.3" d="M362 295 L675 112 Q720 95 740 125 Q755 165 727 202 L415 385 Z"/>
<path d="M650 129 Q697 160 700 215 M615 149 Q662 180 666 236 M581 169 Q628 200 631 256"/>
<ellipse class="w" style="stroke-width:2.4" cx="328" cy="375" rx="92" ry="142" transform="rotate(-20 328 375)"/>
<path class="w" style="stroke-width:2.2" d="M180 388 L199 316 L268 283 L335 311 L381 403 L373 449 L317 490 L228 477 Z"/>
<path d="M199 318 L228 326 L274 347 L325 318 M274 347 L317 436 L379 408 M317 436 L311 488"/>
</g>

<!-- g01_green.svg -->
<!-- highlighted bolts (#2) -->
<defs>
<g id="gbolt" stroke="#000" stroke-width="2.1" stroke-linejoin="miter" fill="#156b0b">
<path d="M-7.7 71 L-7.7 78 L-3.7 80.3 L3.7 80.3 L7.7 78 L7.7 71 Z"/>
<path d="M-3.3 74 L-3.3 80.3 M3.3 74 L3.3 80.3" stroke-width="1.3" fill="none"/>
<ellipse cx="0" cy="68.9" rx="10.05" ry="5.1"/>
<path d="M0 1.5 L4.45 5.9 L4.45 68.2 Q0 72.2 -4.45 68.2 L-4.45 5.9 Z"/>
<path d="M-3.4 5.9 Q0 8.3 3.4 5.9 M-3.4 9.3 Q0 11.7 3.4 9.3 M-3.4 12.8 Q0 15.2 3.4 12.8 M-3.4 16.3 Q0 18.7 3.4 16.3 M-3.4 19.8 Q0 22.2 3.4 19.8" stroke-width="1.35" fill="none"/>
</g>
</defs>
<use href="#gbolt" transform="translate(286.6,52.3)"/>
<use href="#gbolt" transform="translate(137.4,540.6)"/>
<use href="#gbolt" transform="translate(468,504.4) scale(1.2)"/>
<use href="#gbolt" transform="translate(634.6,385.1) scale(1.2)"/>

<!-- h01_labels.svg -->
<!-- callout labels, leader arrows -->
<g font-size="35">
<text x="203.53" y="561.30" fill="#999999" stroke="#999999" stroke-width="0.45" transform="translate(206.90 0) scale(1.044 1) translate(-206.90 0)">1</text>
<text x="244.80" y="384.40" fill="#999999" stroke="#999999" stroke-width="0.45">4</text>
<text x="140.60" y="438.00" fill="#999999" stroke="#999999" stroke-width="0.45" transform="translate(142.00 0) scale(1.048 1) translate(-142.00 0)">5</text>
<text x="679.97" y="454.10" fill="#999999" stroke="#999999" stroke-width="0.45">3</text>
<text x="662.48" y="668.70" fill="#999999" stroke="#999999" stroke-width="0.45" transform="translate(664.00 0) scale(0.974 1) translate(-664.00 0)">8</text>
<text x="927.33" y="199.20" fill="#999999" stroke="#999999" stroke-width="0.45" letter-spacing="-0.04">14</text>
<text x="819.23" y="561.30" fill="#999999" stroke="#999999" stroke-width="0.45" letter-spacing="-0.73">16</text>
<text x="825.03" y="605.50" fill="#999999" stroke="#999999" stroke-width="0.45">15</text>
<text x="803.52" y="172.80" fill="#999999" stroke="#999999" stroke-width="0.45" transform="translate(805.30 0) scale(1.034 1) translate(-805.30 0)">6</text>
<text x="778.33" y="210.70" fill="#999999" stroke="#999999" stroke-width="0.45" letter-spacing="-0.20">12</text>
<text x="747.43" y="250.80" fill="#999999" stroke="#999999" stroke-width="0.45" letter-spacing="-1.00">13</text>
<text x="818.10" y="324.10" fill="#999999" stroke="#999999" stroke-width="0.45" transform="translate(819.90 0) scale(1.062 1) translate(-819.90 0)">7</text>
<text x="728.63" y="453.00" fill="#999999" stroke="#999999" stroke-width="0.45" letter-spacing="0.20">17</text>
<text x="871.23" y="461.00" fill="#999999" stroke="#999999" stroke-width="0.45" letter-spacing="0.41">11</text>
<text x="936.86" y="379.20" fill="#999999" stroke="#999999" stroke-width="0.45" transform="translate(938.50 0) scale(1.039 1) translate(-938.50 0)">9</text>
<text x="925.43" y="617.50" fill="#999999" stroke="#999999" stroke-width="0.45" letter-spacing="0.50">10</text>
<text x="233.64" y="96.00" fill="#000" stroke="#000" stroke-width="0.45" transform="translate(235.40 0) scale(1.079 1) translate(-235.40 0)">2</text>
<text x="84.64" y="584.00" fill="#000" stroke="#000" stroke-width="0.45" transform="translate(86.40 0) scale(1.085 1) translate(-86.40 0)">2</text>
<text x="575.74" y="568.10" fill="#000" stroke="#000" stroke-width="0.45" transform="translate(577.50 0) scale(1.060 1) translate(-577.50 0)">2</text>
</g>
<path d="M245.0 360.0 L160.9 338.6" stroke="#999999" stroke-width="2.6" fill="none"/>
<polygon points="153.0,336.6 163.2,333.6 160.6,344.1" fill="#999999"/>
<path d="M266.0 383.0 L313.2 442.0" stroke="#999999" stroke-width="2.6" fill="none"/>
<polygon points="318.3,448.4 308.3,444.6 316.8,437.8" fill="#999999"/>
<path d="M140.0 414.0 L118.4 389.2" stroke="#999999" stroke-width="2.6" fill="none"/>
<polygon points="113.0,383.0 123.1,386.4 115.0,393.5" fill="#999999"/>
<path d="M162.0 431.6 L213.4 452.9" stroke="#999999" stroke-width="2.6" fill="none"/>
<polygon points="221.0,456.0 210.4,457.5 214.6,447.5" fill="#999999"/>
<path d="M688.6 421.5 L688.6 402.2" stroke="#999999" stroke-width="2.6" fill="none"/>
<polygon points="688.6,394.0 694.0,403.2 683.2,403.2" fill="#999999"/>
<path d="M670.8 635.7 L670.8 616.4" stroke="#999999" stroke-width="2.6" fill="none"/>
<polygon points="670.8,608.2 676.2,617.4 665.4,617.4" fill="#999999"/>
<path d="M934.2 202.0 L922.9 216.9" stroke="#999999" stroke-width="2.6" fill="none"/>
<polygon points="918.0,223.4 919.2,212.8 927.9,219.3" fill="#999999"/>
<path d="M820.7 549.3 L801.3 549.3" stroke="#999999" stroke-width="2.6" fill="none"/>
<polygon points="793.1,549.3 802.3,543.9 802.3,554.7" fill="#999999"/>
<path d="M826.4 592.2 L806.5 592.2" stroke="#999999" stroke-width="2.6" fill="none"/>
<polygon points="798.3,592.2 807.5,586.8 807.5,597.6" fill="#999999"/>
<path d="M824.7 160.4 L843.4 160.4" stroke="#999999" stroke-width="2.6" fill="none"/>
<polygon points="851.6,160.4 842.4,165.8 842.4,155.0" fill="#999999"/>
<path d="M809.9 216.6 L822.3 232.0" stroke="#999999" stroke-width="2.6" fill="none"/>
<polygon points="827.4,238.4 817.4,234.6 825.9,227.8" fill="#999999"/>
<path d="M770.9 259.9 L778.5 277.8" stroke="#999999" stroke-width="2.6" fill="none"/>
<polygon points="781.7,285.4 773.1,279.0 783.1,274.8" fill="#999999"/>
<path d="M756.0 457.0 L763.5 472.6" stroke="#999999" stroke-width="2.6" fill="none"/>
<polygon points="767.0,480.0 758.2,474.0 767.9,469.4" fill="#999999"/>
<path d="M889.4 464.0 L889.4 482.8" stroke="#999999" stroke-width="2.6" fill="none"/>
<polygon points="889.4,491.0 884.0,481.8 894.8,481.8" fill="#999999"/>
<path d="M944.6 382.2 L944.6 401.3" stroke="#999999" stroke-width="2.6" fill="none"/>
<polygon points="944.6,409.5 939.2,400.3 950.0,400.3" fill="#999999"/>
<path d="M945.0 585.4 L945.0 566.7" stroke="#999999" stroke-width="2.6" fill="none"/>
<polygon points="945.0,558.5 950.4,567.7 939.6,567.7" fill="#999999"/>
<path d="M254.0 86.3 L273.3 86.3" stroke="#000" stroke-width="2.6" fill="none"/>
<polygon points="281.5,86.3 272.3,91.7 272.3,80.9" fill="#000"/>
<path d="M105.0 574.4 L124.3 574.4" stroke="#000" stroke-width="2.6" fill="none"/>
<polygon points="132.5,574.4 123.3,579.8 123.3,569.0" fill="#000"/>
<path d="M596.0 537.3 L624.0 490.1" stroke="#000" stroke-width="2.6" fill="none"/>
<polygon points="628.2,483.0 628.2,493.7 618.9,488.2" fill="#000"/>
<path d="M562.8 565.3 L488.7 582.5" stroke="#000" stroke-width="2.6" fill="none"/>
<polygon points="480.7,584.4 488.4,577.1 490.9,587.6" fill="#000"/>
<path d="M213.3 521.5 L213.3 531.0" stroke="#999999" stroke-width="2.5" fill="none"/>
<path d="M825.5 327.6 L825.5 337.5" stroke="#999999" stroke-width="2.5" fill="none"/>

<!-- banner -->
<rect x="25" y="705" width="950" height="69.6" fill="#126705"/>
<text x="219.3" y="735.5" font-size="29" fill="#000" textLength="488.8">Part or sub-assembly is #2 in diagram</text>
<text x="172.1" y="766.6" font-size="29" fill="#000" textLength="564.4">Diagram may not be specific to your vehicle</text>
</svg>

</body>
</html>
